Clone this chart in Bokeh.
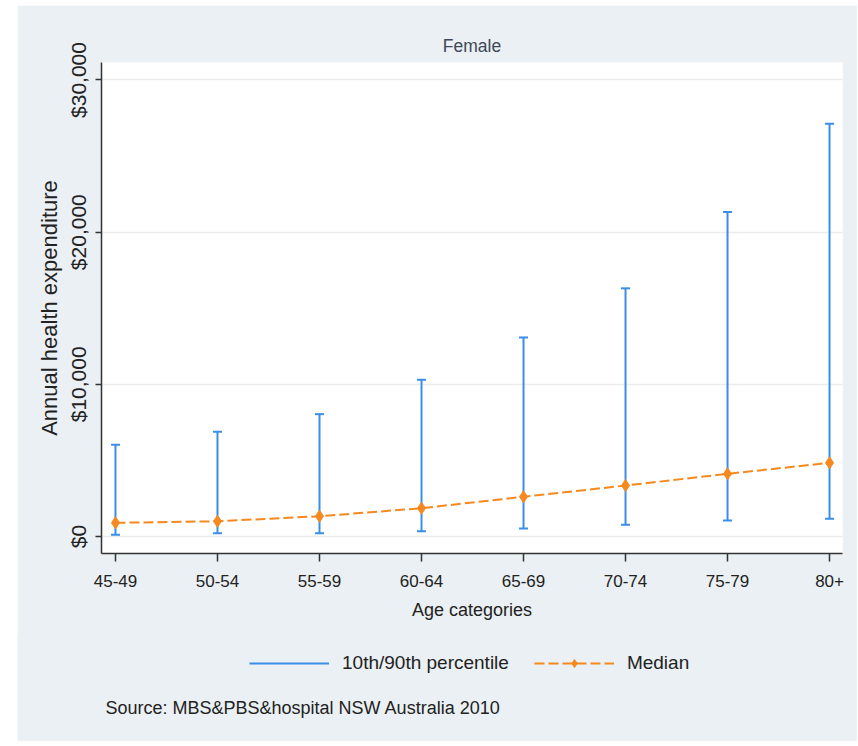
from bokeh.plotting import figure
from bokeh.layouts import column
from bokeh.models import (Range1d, FixedTicker, NumeralTickFormatter, Legend, LegendItem,
                          Label, ColumnDataSource)
from bokeh.embed import file_html
from bokeh.resources import INLINE

# ---- data ----
categories = ["45-49", "50-54", "55-59", "60-64", "65-69", "70-74", "75-79", "80+"]
p10 = [110, 220, 220, 350, 525, 770, 1050, 1160]
p90 = [6030, 6880, 8040, 10300, 13080, 16310, 21330, 27120]
median = [900, 1000, 1330, 1860, 2610, 3350, 4120, 4840]
y_ticks = [0, 10000, 20000, 30000]

BG = "#eaf0f3"
BLUE = "#3a8ee8"
ORANGE = "#f5891f"
FONT = "Liberation Sans"

xs = list(range(len(categories)))
src = ColumnDataSource(dict(x=xs, lo=p10, hi=p90, med=median))

p = figure(frame_width=741, frame_height=491, output_backend="svg", toolbar_location=None,
           x_range=Range1d(-0.137, 7.127), y_range=Range1d(-1117, 31150),
           min_border_left=84, min_border_right=15, min_border_top=57, min_border_bottom=82,
           background_fill_color="white", border_fill_color=BG)
p.margin = (5, 0, 0, 17)
p.outline_line_color = None

p.title.text = "Female"
p.title.align = "center"
p.title.text_font = FONT
p.title.text_font_size = "17.5px"
p.title.text_font_style = "normal"
p.title.text_color = "#3f4858"
p.title.standoff = 14

# error bars
bar_style = dict(line_color=BLUE, line_width=2)
p.segment(x0="x", y0="lo", x1="x", y1="hi", source=src, **bar_style)
p.scatter(x="x", y="lo", source=src, marker="dash", size=9, **bar_style)
p.scatter(x="x", y="hi", source=src, marker="dash", size=9, **bar_style)

# median
med_line = dict(line_color=ORANGE, line_width=2, line_dash="10 4")
med_mark = dict(marker="diamond", size=12, fill_color=ORANGE, line_color=ORANGE)
p.line(x="x", y="med", source=src, **med_line)
p.scatter(x="x", y="med", source=src, **med_mark)

# axes
p.xaxis.ticker = FixedTicker(ticks=xs)
p.xaxis.major_label_overrides = {i: c for i, c in zip(xs, categories)}
p.xaxis.axis_label = "Age categories"
p.yaxis.ticker = FixedTicker(ticks=y_ticks)
p.yaxis.formatter = NumeralTickFormatter(format="$0,0")
p.yaxis.axis_label = "Annual health expenditure"
p.yaxis.major_label_orientation = "vertical"

for ax in (p.xaxis[0], p.yaxis[0]):
    ax.axis_line_color = "#333333"
    ax.axis_line_width = 1.5
    ax.major_tick_line_color = "#333333"
    ax.major_tick_line_width = 1.5
    ax.major_tick_in = 0
    ax.minor_tick_line_color = None
    ax.major_label_text_color = "#222222"
    ax.axis_label_text_color = "#222222"
    ax.axis_label_text_font_style = "normal"
    ax.major_label_text_font = FONT
    ax.axis_label_text_font = FONT

p.xaxis.major_tick_out = 8
p.xaxis.major_label_text_font_size = "17px"
p.xaxis.axis_label_text_font_size = "18px"
p.xaxis.major_label_standoff = 13
p.xaxis.axis_label_standoff = 10

p.yaxis.major_tick_out = 6
p.yaxis.major_label_text_font_size = "21px"
p.yaxis.axis_label_text_font_size = "22px"
p.yaxis.major_label_standoff = 5
p.yaxis.axis_label_standoff = 3

p.xgrid.grid_line_color = None
p.ygrid.grid_line_color = "#ececec"
p.ygrid.grid_line_width = 1.5

# ---- lower strip: legend and source note ----
W2, H2 = 840, 107
p2 = figure(width=W2, height=H2, output_backend="svg", toolbar_location=None,
            x_range=Range1d(0, W2), y_range=Range1d(H2, 0),
            x_axis_type=None, y_axis_type=None,
            min_border=0, min_border_left=0, min_border_right=0,
            min_border_top=0, min_border_bottom=0,
            background_fill_color=BG, border_fill_color=BG)
p2.margin = (-1, 0, 0, 17)
p2.outline_line_color = None
p2.xgrid.grid_line_color = None
p2.ygrid.grid_line_color = None
if "frame_align" in p2.properties():
    p.frame_align = False
    p2.frame_align = False

# legend proxies (no visible data; they only supply the legend glyph styles)
proxy = ColumnDataSource(dict(x=[float("nan")], y=[float("nan")]))
k_bar = p2.segment(x0="x", y0="y", x1="x", y1="y", source=proxy, **bar_style)
k_line = p2.line(x="x", y="y", source=proxy, **med_line)
k_mark = p2.scatter(x="x", y="y", source=proxy, **med_mark)

legend = Legend(items=[
    LegendItem(label="10th/90th percentile", renderers=[k_bar]),
    LegendItem(label="Median", renderers=[k_line, k_mark]),
], orientation="horizontal", location=(232, 67))
legend.label_text_font = FONT
legend.label_text_font_size = "19px"
legend.label_text_color = "#222222"
legend.glyph_width = 80
legend.glyph_height = 20
legend.spacing = 25
legend.label_standoff = 13
legend.background_fill_alpha = 0
legend.border_line_color = None
legend.margin = 0
legend.padding = 6
p2.add_layout(legend, "center")

source_note = Label(text="Source: MBS&PBS&hospital NSW Australia 2010",
                    x=88, y=73, text_baseline="middle", text_align="left",
                    text_font=FONT, text_font_size="18px", text_color="#222222")
p2.add_layout(source_note)

layout = column(p, p2, spacing=0)
open("out.html", "w").write(file_html(layout, INLINE))
